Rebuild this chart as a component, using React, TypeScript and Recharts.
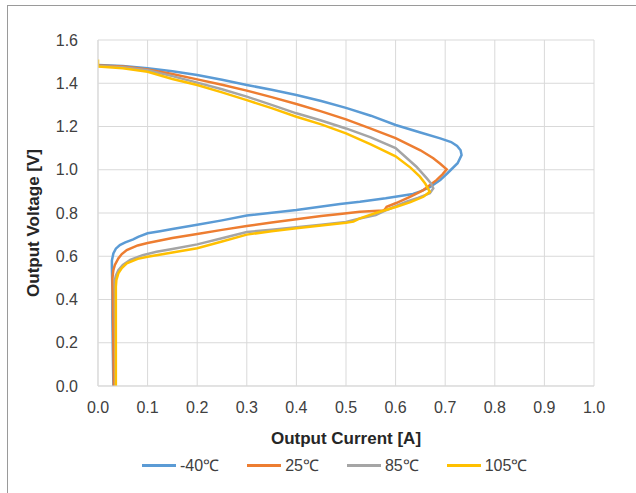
import { LineChart, Line, XAxis, YAxis, CartesianGrid, Legend } from 'recharts';

// output current [A], output voltage [V] pairs
const minus40C: [number, number][] = [
  [0.0, 1.484], [0.05, 1.48], [0.1, 1.469], [0.15, 1.455], [0.2, 1.438], [0.25, 1.416],
  [0.3, 1.392], [0.35, 1.37], [0.4, 1.346], [0.45, 1.318], [0.5, 1.286], [0.55, 1.25],
  [0.6, 1.207], [0.65, 1.172], [0.69, 1.145], [0.712, 1.128], [0.724, 1.11], [0.731, 1.09],
  [0.733, 1.068], [0.725, 1.03], [0.705, 0.985], [0.69, 0.953], [0.669, 0.92], [0.65, 0.9],
  [0.635, 0.888], [0.58, 0.868], [0.528, 0.852], [0.488, 0.842], [0.4, 0.814], [0.3, 0.788],
  [0.25, 0.766], [0.2, 0.746], [0.15, 0.726], [0.125, 0.716], [0.1, 0.706], [0.081, 0.69],
  [0.071, 0.678], [0.055, 0.664], [0.044, 0.652], [0.036, 0.635], [0.031, 0.613], [0.028, 0.58],
  [0.028, 0.552], [0.029, 0.45], [0.029, 0.32], [0.03, 0.15], [0.031, 0.0],
];

const plus25C: [number, number][] = [
  [0.0, 1.482], [0.05, 1.478], [0.1, 1.464], [0.15, 1.443], [0.2, 1.418], [0.25, 1.393],
  [0.3, 1.366], [0.35, 1.336], [0.4, 1.304], [0.45, 1.27], [0.5, 1.233], [0.55, 1.19],
  [0.6, 1.146], [0.65, 1.09], [0.676, 1.053], [0.69, 1.028], [0.703, 1.002], [0.695, 0.98],
  [0.683, 0.953], [0.656, 0.906], [0.629, 0.875], [0.6, 0.845], [0.582, 0.829], [0.578, 0.815],
  [0.575, 0.812], [0.528, 0.806], [0.488, 0.795], [0.45, 0.786], [0.4, 0.771], [0.35, 0.756],
  [0.3, 0.74], [0.25, 0.722], [0.2, 0.703], [0.15, 0.684], [0.1, 0.661], [0.08, 0.65],
  [0.058, 0.629], [0.048, 0.61], [0.041, 0.59], [0.034, 0.56], [0.031, 0.536], [0.029, 0.498],
  [0.03, 0.4], [0.031, 0.2], [0.032, 0.0],
];

const plus85C: [number, number][] = [
  [0.0, 1.48], [0.05, 1.474], [0.1, 1.46], [0.15, 1.433], [0.2, 1.403], [0.25, 1.372],
  [0.3, 1.338], [0.35, 1.3], [0.4, 1.261], [0.45, 1.228], [0.5, 1.191], [0.55, 1.15],
  [0.6, 1.1], [0.642, 1.014], [0.663, 0.96], [0.672, 0.935], [0.676, 0.914], [0.669, 0.891],
  [0.645, 0.87], [0.622, 0.852], [0.582, 0.814], [0.56, 0.79], [0.528, 0.775], [0.5, 0.758],
  [0.45, 0.746], [0.4, 0.734], [0.35, 0.723], [0.3, 0.712], [0.25, 0.683], [0.2, 0.655],
  [0.15, 0.634], [0.118, 0.621], [0.09, 0.605], [0.065, 0.583], [0.05, 0.56], [0.041, 0.536],
  [0.036, 0.51], [0.034, 0.49], [0.034, 0.35], [0.035, 0.15], [0.035, 0.0],
];

const plus105C: [number, number][] = [
  [0.0, 1.51], [0.0, 1.477], [0.05, 1.469], [0.1, 1.453], [0.15, 1.42], [0.2, 1.392],
  [0.25, 1.358], [0.3, 1.322], [0.35, 1.285], [0.4, 1.245], [0.45, 1.21], [0.5, 1.168],
  [0.55, 1.117], [0.6, 1.062], [0.63, 1.01], [0.649, 0.968], [0.66, 0.935], [0.669, 0.898],
  [0.656, 0.875], [0.63, 0.85], [0.602, 0.829], [0.56, 0.8], [0.528, 0.775], [0.515, 0.76],
  [0.5, 0.755], [0.45, 0.742], [0.4, 0.729], [0.35, 0.716], [0.3, 0.7], [0.25, 0.668],
  [0.2, 0.637], [0.15, 0.617], [0.1, 0.598], [0.08, 0.588], [0.058, 0.567], [0.048, 0.545],
  [0.041, 0.521], [0.037, 0.49], [0.036, 0.459], [0.036, 0.3], [0.036, 0.1], [0.036, 0.0],
];

const xTicks = [0, 0.1, 0.2, 0.3, 0.4, 0.5, 0.6, 0.7, 0.8, 0.9, 1.0];
const yTicks = [0, 0.2, 0.4, 0.6, 0.8, 1.0, 1.2, 1.4, 1.6];

const series = [
  { name: '-40℃', points: minus40C, color: '#5B9BD5' },
  { name: '25℃', points: plus25C, color: '#ED7D31' },
  { name: '85℃', points: plus85C, color: '#A5A5A5' },
  { name: '105℃', points: plus105C, color: '#FFC000' },
];

const FONT = '"Liberation Sans", Arial, sans-serif';
const TEXT = '#404040';
const TITLE = '#262626';
const GRID = '#D9D9D9';

const toRows = (pts: [number, number][]) => pts.map(([i, v]) => ({ i, v }));

function LegendBox() {
  return (
    <div style={{ display: 'flex', height: 24, alignItems: 'center', fontFamily: FONT, fontSize: 16, color: TEXT }}>
      {series.map((s) => (
        <div key={s.name} style={{ display: 'flex', alignItems: 'center', marginRight: 28 }}>
          <div style={{ width: 34, height: 3, background: s.color, marginRight: 4 }} />
          <span>{s.name}</span>
        </div>
      ))}
    </div>
  );
}

// rotated y title, centred a little below the plot middle like the original
function VoltageTitle() {
  return (
    <text
      x={33}
      y={223}
      transform="rotate(-90 33 223)"
      textAnchor="middle"
      dominantBaseline="central"
      fill={TITLE}
      fontWeight={700}
      fontSize={17}
      fontFamily={FONT}
    >
      Output Voltage [V]
    </text>
  );
}

export default function App() {
  return (
    <div style={{ position: 'absolute', left: 0, top: 0, width: 636, height: 493, background: '#fff' }}>
      <div
        style={{
          position: 'absolute', left: 7, top: 5, width: 629, height: 488,
          borderTop: '1px solid #9a9a9a', borderLeft: '1px solid #9a9a9a',
        }}
      />
      <div style={{ position: 'absolute', left: 0, top: 0 }}>
        <LineChart width={636} height={493} margin={{ top: 40, right: 42, left: 38, bottom: 16 }}>
          <CartesianGrid stroke={GRID} strokeWidth={1} />
          <XAxis
            type="number"
            dataKey="i"
            domain={[0, 1]}
            ticks={xTicks}
            tickFormatter={(t: number) => t.toFixed(1)}
            height={67}
            tickLine={false}
            tickSize={0}
            tickMargin={16}
            axisLine={{ stroke: GRID }}
            tick={{ fill: TEXT, fontSize: 16, fontFamily: FONT }}
            allowDataOverflow
            label={{
              value: 'Output Current [A]',
              position: 'insideBottom',
              offset: 9,
              style: { fill: TITLE, fontWeight: 700, fontSize: 17, fontFamily: FONT },
            }}
          />
          <YAxis
            type="number"
            dataKey="v"
            domain={[0, 1.6]}
            ticks={yTicks}
            tickFormatter={(t: number) => t.toFixed(1)}
            width={60}
            tickLine={false}
            tickSize={0}
            tickMargin={20}
            axisLine={{ stroke: GRID }}
            tick={{ fill: TEXT, fontSize: 16, fontFamily: FONT }}
            allowDataOverflow
            label={{ value: 'Output Voltage [V]', content: () => <VoltageTitle /> }}
          />
          <Legend
            verticalAlign="bottom"
            content={() => <LegendBox />}
            wrapperStyle={{ left: 142, width: 460 }}
          />
          {series.map((s) => (
            <Line
              key={s.name}
              name={s.name}
              data={toRows(s.points)}
              dataKey="v"
              type="linear"
              stroke={s.color}
              strokeWidth={2.5}
              dot={false}
              activeDot={false}
              isAnimationActive={false}
            />
          ))}
        </LineChart>
      </div>
    </div>
  );
}
